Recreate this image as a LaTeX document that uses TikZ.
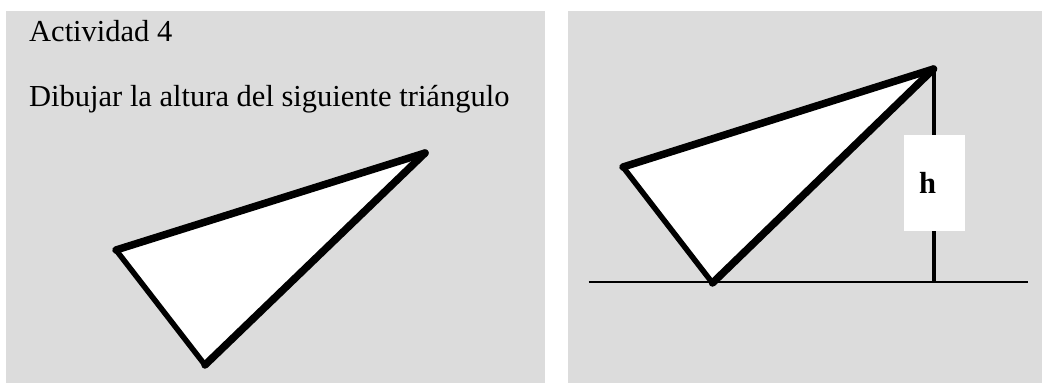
\documentclass[tikz,border=0pt]{standalone}
\usepackage{fontspec}
\setmainfont{Liberation Serif}
\definecolor{panelgrey}{HTML}{DCDCDC}
\begin{document}
\begin{tikzpicture}[x=1pt,y=-1pt,
  panel/.style={fill=panelgrey,draw=none},
  thickedge/.style={line width=7.5pt,line cap=round,line join=round},
  thinedge/.style={line width=5.5pt,line cap=round,line join=round},
  maintext/.style={anchor=base west,inner sep=0pt,font=\fontsize{30.5}{34}\selectfont},
  hlabel/.style={fill=white,minimum width=61pt,minimum height=96pt,inner sep=0pt,font=\fontsize{30.5}{34}\selectfont\bfseries}]
\useasboundingbox (0,0) rectangle (1042,383);
\fill[white] (0,0) rectangle (1042,383);
% panels
\path[panel] (6,11) rectangle (545,383);
\path[panel] (568,11) rectangle (1042,383);
% left panel text
\node[maintext] (t1) at (29,41.7) {Actividad 4};
\node[maintext] (t2) at (29,106.7) {Dibujar la altura del siguiente triángulo};
% left triangle
\coordinate (la) at (116,250);
\coordinate (lb) at (205,365);
\coordinate (lc) at (425,153);
\fill[white] (la) -- (lb) -- (lc) -- cycle;
\draw[thinedge] (la) -- (lb);
\draw[thickedge] (lb) -- (lc);
\draw[thickedge] (lc) -- (la);
% right panel
\coordinate (bl) at (588.5,282.3);
\coordinate (br) at (1028,282.3);
\coordinate (ra) at (623,167);
\coordinate (rb) at (712.5,283);
\coordinate (rc) at (933.5,69);
\coordinate (foot) at (933.5,282.3);
\draw[line width=2.3pt] (bl) -- (br);
\fill[white] (ra) -- (rb) -- (rc) -- cycle;
\draw[thinedge] (ra) -- (rb);
\draw[thickedge] (rb) -- (rc);
\draw[thickedge] (rc) -- (ra);
\draw[line width=4pt] (rc) -- (foot);
\node[hlabel] (h) at (934.5,183) {\hspace*{-14pt}h};
\end{tikzpicture}
\end{document}
